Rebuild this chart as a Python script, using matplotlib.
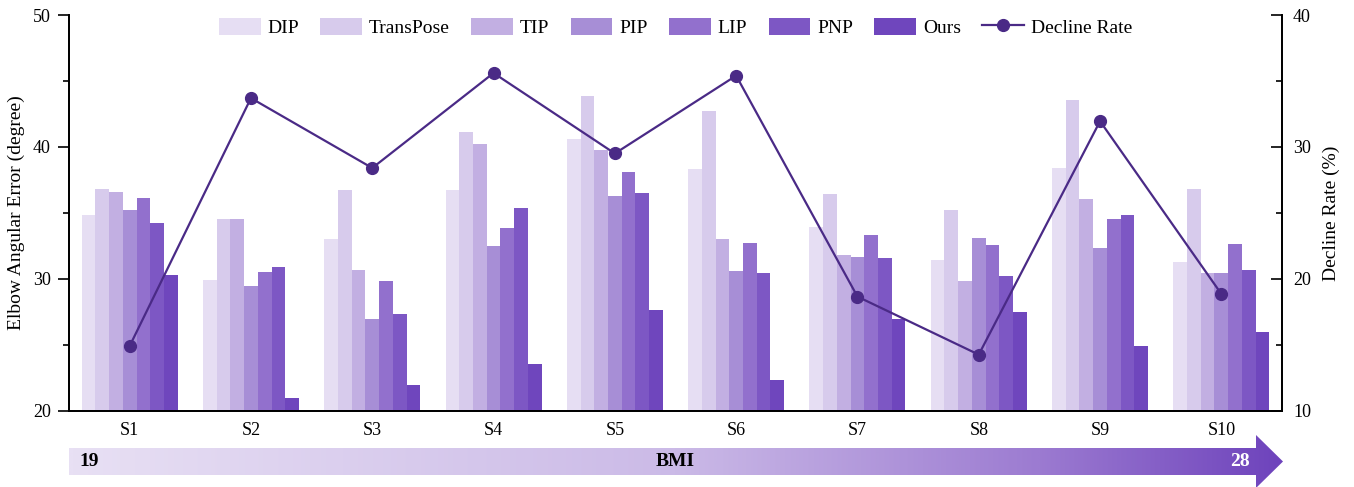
import numpy as np
import matplotlib
matplotlib.use("Agg")
import matplotlib.pyplot as plt
from matplotlib.patches import Polygon
from matplotlib.colors import LinearSegmentedColormap
from matplotlib.ticker import MultipleLocator

plt.rcParams['font.family'] = ['Liberation Serif', 'DejaVu Serif']

subjects = ["S1", "S2", "S3", "S4", "S5", "S6", "S7", "S8", "S9", "S10"]
methods = ["DIP", "TransPose", "TIP", "PIP", "LIP", "PNP", "Ours"]

DIP       = [34.8, 29.9, 33.0, 36.7, 40.6, 38.3, 33.9, 31.4, 38.4, 31.3]
TransPose = [36.8, 34.55, 36.7, 41.15, 43.85, 42.75, 36.4, 35.2, 43.55, 36.8]
TIP       = [36.6, 34.5, 30.65, 40.2, 39.75, 33.05, 31.8, 29.85, 36.05, 30.45]
PIP       = [35.2, 29.45, 26.95, 32.45, 36.25, 30.6, 31.65, 33.1, 32.3, 30.45]
LIP       = [36.1, 30.5, 29.8, 33.85, 38.1, 32.7, 33.35, 32.6, 34.5, 32.65]
PNP       = [34.2, 30.9, 27.35, 35.35, 36.5, 30.45, 31.6, 30.25, 34.85, 30.7]
Ours      = [30.3, 20.95, 21.95, 23.55, 27.6, 22.35, 26.95, 27.45, 24.9, 26.0]
decline_rate = [14.9, 33.7, 28.4, 35.6, 29.5, 35.4, 18.65, 14.25, 31.95, 18.85]

bmi_min, bmi_max = "19", "28"

colors = ["#E6DEF3", "#D7CBEC", "#C2AFE2", "#A78ED6", "#9270CD", "#7D57C4", "#6F46BD"]
line_color = "#4A2A86"

W, H = 1354, 487
fig = plt.figure(figsize=(W / 100, H / 100), dpi=100)
ax_l, ax_r, ax_t, ax_b = 69, 1282, 15, 410.7
ax = fig.add_axes([ax_l / W, (H - ax_b) / H, (ax_r - ax_l) / W, (ax_b - ax_t) / H])

series = [DIP, TransPose, TIP, PIP, LIP, PNP, Ours]
x = np.arange(len(subjects))
bw = 0.113
handles = []
for i, (vals, c, name) in enumerate(zip(series, colors, methods)):
    off = (i - 3) * bw
    b = ax.bar(x + off, vals, width=bw, color=c, edgecolor='none', label=name, zorder=2)
    handles.append(b)

ax.set_xlim(-0.5, 9.5)
ax.set_ylim(20, 50)
ax.set_xticks(x)
ax.set_xticklabels(subjects, fontsize=13)
ax.tick_params(axis='x', length=0, pad=8)
ax.yaxis.set_major_locator(MultipleLocator(10))
ax.yaxis.set_minor_locator(MultipleLocator(5))
ax.tick_params(axis='y', which='major', direction='out', length=8, width=1.2, labelsize=13, pad=5)
ax.tick_params(axis='y', which='minor', direction='out', length=4, width=1.2)
ax.set_ylabel("Elbow Angular Error (degree)", fontsize=14, labelpad=6)
for s in ['left', 'bottom', 'right']:
    ax.spines[s].set_linewidth(1.3)
ax.spines['top'].set_visible(False)

ax2 = ax.twinx()
ax2.set_ylim(10, 40)
ln, = ax2.plot(x, decline_rate, color=line_color, lw=1.6, marker='o', markersize=8.5,
               label="Decline Rate", zorder=5)
ax2.yaxis.set_major_locator(MultipleLocator(10))
ax2.yaxis.set_minor_locator(MultipleLocator(5))
ax2.tick_params(axis='y', which='major', direction='in', length=8, width=1.2, labelsize=13, pad=8)
ax2.tick_params(axis='y', which='minor', direction='in', length=4, width=1.2)
ax2.set_ylabel("Decline Rate (%)", fontsize=14, labelpad=8)
ax2.spines['top'].set_visible(False)
for s in ['left', 'bottom', 'right']:
    ax2.spines[s].set_linewidth(1.3)

leg = ax2.legend(handles + [ln], methods + ["Decline Rate"], ncol=8, loc='upper center',
                 bbox_to_anchor=(0.5, 1.028), frameon=False, fontsize=14,
                 handlelength=2.15, handleheight=1.0, handletextpad=0.35,
                 columnspacing=1.1, borderpad=0.2)

# BMI arrow
ov = fig.add_axes([0, 0, 1, 1], zorder=10)
ov.set_xlim(0, W)
ov.set_ylim(H, 0)
ov.axis('off')
ov.patch.set_alpha(0)
x0, xb, xt = 69, 1256, 1283
yt, yb, yc = 448, 475, 461.5
verts = [(x0, yt), (xb, yt), (xb, 435), (xt, yc), (xb, 488), (xb, yb), (x0, yb)]
poly = Polygon(verts, closed=True, facecolor='none', edgecolor='none')
ov.add_patch(poly)
cmap = LinearSegmentedColormap.from_list(
    "bmi", [(0.0, "#E8E0F4"), (0.5, "#CBBAE7"), (0.8, "#9C7BD1"), (1.0, "#6E43BC")])
grad = np.linspace(0, 1, 512).reshape(1, -1)
im = ov.imshow(grad, cmap=cmap, extent=(x0, xt, 488, 435), aspect='auto', interpolation='bilinear')
im.set_clip_path(poly)
ov.set_xlim(0, W)
ov.set_ylim(H, 0)
ov.text(79, yc, bmi_min, fontsize=14, fontweight='bold', ha='left', va='center', color='black')
ov.text(675, yc, "BMI", fontsize=14, fontweight='bold', ha='center', va='center', color='black')
ov.text(1240, yc, bmi_max, fontsize=14, fontweight='bold', ha='center', va='center', color='white')

fig.savefig("out.png", dpi=100)
